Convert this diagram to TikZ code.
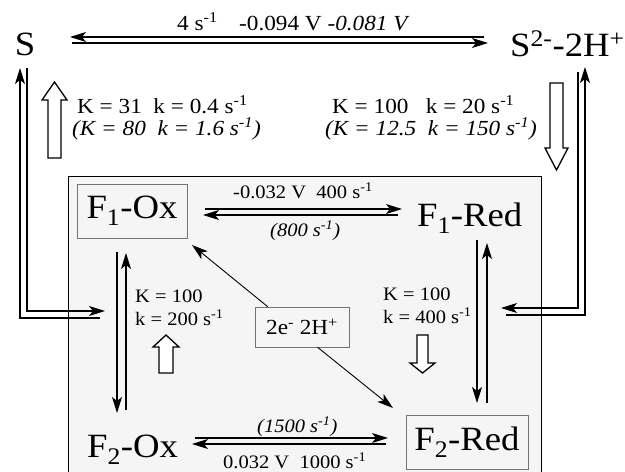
\documentclass[tikz,border=0pt]{standalone}
\usepackage{fontspec}
\setmainfont{Liberation Serif}[FakeStretch=1.08]
\usetikzlibrary{arrows.meta}
\newcommand{\myinv}{\textsuperscript{-1}}
\begin{document}
\begin{tikzpicture}[x=1pt,y=-1pt,
  big/.style={font=\fontsize{34}{38}\selectfont, inner sep=0pt},
  med/.style={font=\fontsize{21.5}{24}\selectfont, inner sep=0pt, anchor=base west},
  sml/.style={med, font=\fontsize{19}{22}\selectfont},
  ln/.style={line width=1.1pt},
  arr/.style={ln, -{Stealth[length=16pt,width=10pt,inset=4pt]}},
  blk/.style={draw, line width=1.3pt, fill=white, line join=miter},
  lbox/.style={draw=black!55, line width=0.7pt, inner sep=0pt}
]
\useasboundingbox (0,0) rectangle (625,472);
% panel
\node[draw, line width=1pt, fill=black!4, minimum width=473pt, minimum height=310pt, anchor=north west, inner sep=0pt] (panel) at (68,176) {};

% species
\node[big, anchor=base] (S) at (25,55) {S};
\node[big, anchor=base west] (S2) at (510,56) {S\textsuperscript{2-}-2H\textsuperscript{+}};
\node[big, lbox, minimum width=110pt, minimum height=54pt] (F1ox) at (132,211) {F\textsubscript{1}-Ox};
\node[big, anchor=base west] (F1red) at (417,226) {F\textsubscript{1}-Red};
\node[big, anchor=base west] (F2ox) at (87,457) {F\textsubscript{2}-Ox};
\node[big, lbox, minimum width=122pt, minimum height=54pt] (F2red) at (467,442) {F\textsubscript{2}-Red};
\node[med, lbox, anchor=center, minimum width=94pt, minimum height=40pt] (ee) at (302,327) {2e\textsuperscript{-} 2H\textsuperscript{+}};

% labels
\node[med] (lt) at (177,30) {4 s\myinv\quad -0.094 V \textit{-0.081 V}};
\node[med] (lk1) at (77,113) {K = 31 \ k = 0.4 s\myinv};
\node[med] (lk2) at (72,135) {\textit{(K = 80 \ k = 1.6 s\myinv)}};
\node[med] (rk1) at (332,113) {K = 100 \ \ k = 20 s\myinv};
\node[med] (rk2) at (325,135) {\textit{(K = 12.5 \ k = 150 s\myinv)}};
\node[sml] (f1a) at (233,198) {-0.032 V \ 400 s\myinv};
\node[sml] (f1b) at (270,236) {\textit{(800 s\myinv)}};
\node[sml] (lK) at (135,302) {K = 100};
\node[sml] (lk) at (135,325) {k = 200 s\myinv};
\node[sml] (rK) at (383,300) {K = 100};
\node[sml] (rk) at (383,323) {k = 400 s\myinv};
\node[sml] (f2a) at (257,432) {\textit{(1500 s\myinv)}};
\node[sml] (f2b) at (223,468) {0.032 V \ 1000 s\myinv};

% top pair
\coordinate (tL) at (70,37); \coordinate (tR) at (484,37);
\coordinate (bL) at (72,43); \coordinate (bR) at (488,43);
\draw[arr] (tR) -- (tL);
\draw[arr] (bL) -- (bR);

% left double line S <-> panel
\coordinate (lo1) at (20,68); \coordinate (lo2) at (20,318); \coordinate (lo3) at (100,318);
\coordinate (li1) at (27,68); \coordinate (li2) at (27,311); \coordinate (li3) at (105,311);
\draw[arr] (lo3) -- (lo2) -- (lo1);
\draw[arr] (li1) -- (li2) -- (li3);

% right double line S2 <-> panel
\coordinate (ro1) at (585,67); \coordinate (ro2) at (585,315); \coordinate (ro3) at (506,315);
\coordinate (ri1) at (578,72); \coordinate (ri2) at (578,308); \coordinate (ri3) at (501,308);
\draw[arr] (ri1) -- (ri2) -- (ri3);
\draw[arr] (ro3) -- (ro2) -- (ro1);

% F1 pair
\coordinate (a1) at (205,209); \coordinate (a2) at (402,209);
\coordinate (a3) at (203,215); \coordinate (a4) at (398,215);
\draw[arr] (a1) -- (a2);
\draw[arr] (a4) -- (a3);

% F2 pair
\coordinate (c1) at (195,438); \coordinate (c2) at (388,438);
\coordinate (c3) at (192,444); \coordinate (c4) at (386,444);
\draw[arr] (c1) -- (c2);
\draw[arr] (c4) -- (c3);

% left vertical pair
\coordinate (v1) at (117,252); \coordinate (v2) at (117,413);
\coordinate (v3) at (126,410); \coordinate (v4) at (126,253);
\draw[arr] (v1) -- (v2);
\draw[arr] (v3) -- (v4);

% right vertical pair
\coordinate (w1) at (477,240); \coordinate (w2) at (477,403);
\coordinate (w3) at (487,403); \coordinate (w4) at (487,243);
\draw[arr] (w1) -- (w2);
\draw[arr] (w3) -- (w4);

% diagonals
\draw[arr, line width=0.9pt] (ee.north west) ++(13,0) coordinate (d1) -- (192,245) coordinate (d2);
\draw[arr, line width=0.9pt] (ee.south west) ++(63,0) coordinate (d3) -- (393,408) coordinate (d4);

% block arrows
\draw[blk] (48,158) -- (48,100) -- (42,100) -- (54.5,82) -- (67,100) -- (61,100) -- (61,158) -- cycle;
\draw[blk] (550,83) -- (550,148) -- (545,148) -- (556.5,170) -- (568,148) -- (563,148) -- (563,83) -- cycle;
\draw[blk] (159,373) -- (159,347) -- (153,347) -- (166,335) -- (179,347) -- (173,347) -- (173,373) -- cycle;
\draw[blk] (417,335) -- (417,363) -- (410,363) -- (422.5,373) -- (435,363) -- (428,363) -- (428,335) -- cycle;
\end{tikzpicture}
\end{document}
